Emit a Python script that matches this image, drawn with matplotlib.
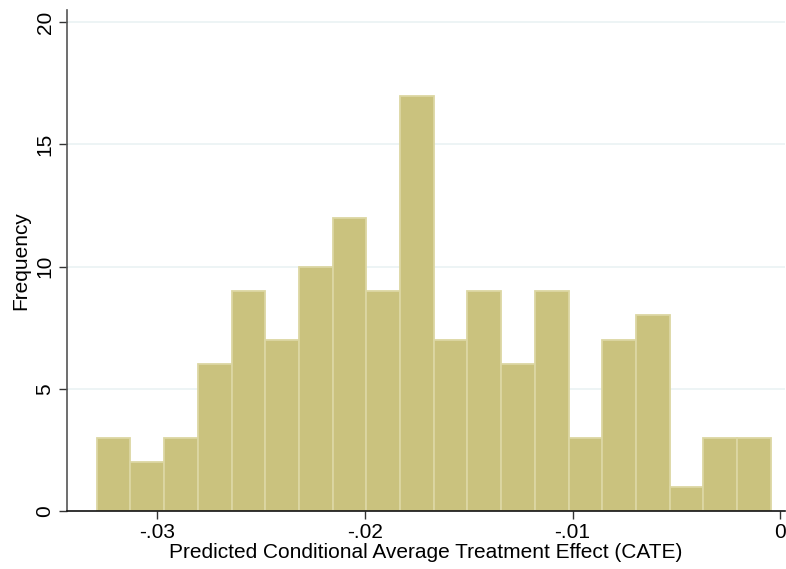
import matplotlib.pyplot as plt
import numpy as np

plt.rcParams['font.family'] = ['Liberation Sans', 'DejaVu Sans']

# histogram of predicted CATE: 20 bins
bin_start = -0.03291
bin_width = 0.001623
counts = [3, 2, 3, 6, 9, 7, 10, 12, 9, 17, 7, 9, 6, 9, 3, 7, 8, 1, 3, 3]
xticks = [-0.03, -0.02, -0.01, 0]
xticklabels = ['-.03', '-.02', '-.01', '0']
yticks = [0, 5, 10, 15, 20]

lefts = bin_start + bin_width * np.arange(len(counts))

fig = plt.figure(figsize=(7.86, 5.69), dpi=100)
ax = fig.add_axes([67/786, 58/569, 718/786, 501/569])

for y in yticks[1:]:
    ax.axhline(y, color='#eaf2f3', lw=1.2, zorder=0)

ax.bar(lefts, counts, width=bin_width, align='edge', color='#cac27e',
       edgecolor='#dcd7a3', linewidth=1.3, zorder=2)

ax.set_xlim(-0.03434, 0.00023)
ax.set_ylim(0, 20.5)
ax.set_xticks(xticks)
ax.set_xticklabels(xticklabels)
ax.set_yticks(yticks)
ax.set_yticklabels([str(v) for v in yticks], rotation=90, va='center')

for s in ['top', 'right']:
    ax.spines[s].set_visible(False)
ax.spines['left'].set_color('#555555')
ax.spines['bottom'].set_color('#111111')
ax.spines['left'].set_linewidth(1.2)
ax.spines['bottom'].set_linewidth(1.2)
ax.tick_params(axis='both', labelsize=15, length=6, width=1.0, color='#333333')
ax.tick_params(axis='x', pad=3)
ax.tick_params(axis='y', pad=3)

ax.set_xlabel('Predicted Conditional Average Treatment Effect (CATE)', fontsize=15, labelpad=0)
ax.set_ylabel('Frequency', fontsize=15, labelpad=4)

fig.savefig('out.png', dpi=100)
